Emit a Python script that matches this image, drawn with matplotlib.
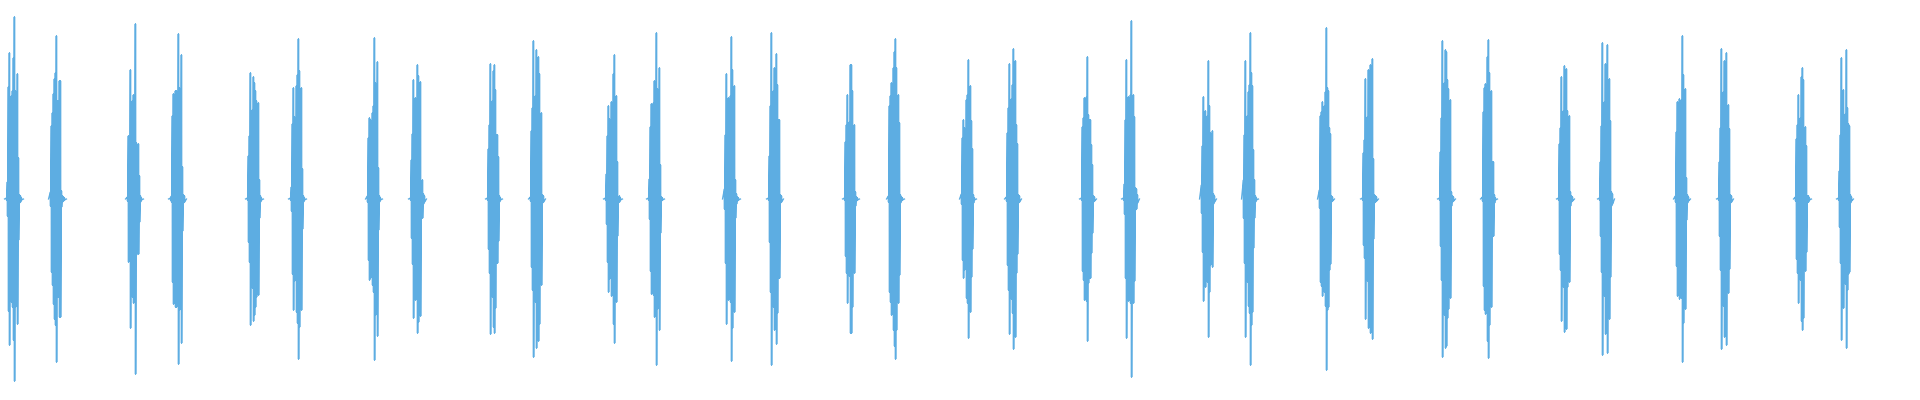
# Waveform of 32 clicks (16 pairs), drawn as one trace per burst
import matplotlib
matplotlib.use('Agg')
import matplotlib.pyplot as plt

plt.rcParams['path.simplify'] = False

# onset of each burst (time units, 1 unit ~ 1 px of the reference)
onsets = [6, 50, 127, 170, 247, 290, 367, 410,
          487, 530, 605, 648, 724, 768, 844, 888,
          961, 1006, 1081, 1123, 1201, 1243, 1319, 1362,
          1439, 1482, 1558, 1599, 1675, 1718, 1795, 1838]

# peak amplitude per time unit inside each burst
env = [
    [1, 17, 112, 146, 91, 103, 108, 141, 182, 108, 69, 125, 41, 4, 3, 1],
    [7, 73, 86, 105, 120, 126, 163, 98, 98, 118, 118, 8, 3, 2, 1],
    [2, 63, 50, 129, 48, 98, 104, 56, 175, 56, 48, 55, 23, 3, 1],
    [1, 3, 83, 105, 96, 108, 108, 66, 165, 111, 55, 144, 32, 4, 3],
    [1, 43, 63, 126, 53, 89, 122, 116, 108, 98, 57, 96, 19, 3, 1],
    [1, 12, 75, 111, 82, 79, 113, 124, 160, 128, 59, 111, 30, 3, 1],
    [3, 61, 81, 79, 78, 86, 93, 161, 116, 55, 137, 31, 3, 1],
    [1, 39, 65, 119, 58, 101, 96, 134, 123, 91, 117, 15, 19, 5, 3],
    [1, 50, 74, 135, 67, 98, 128, 134, 109, 64, 64, 42, 3, 1],
    [2, 68, 91, 158, 70, 103, 149, 120, 142, 125, 79, 86, 4, 3],
    [1, 25, 63, 93, 80, 71, 97, 93, 125, 144, 68, 103, 37, 2, 3, 1],
    [1, 20, 72, 95, 87, 96, 118, 110, 166, 110, 60, 131, 34, 2, 1],
    [10, 64, 125, 61, 101, 86, 103, 162, 129, 84, 113, 19, 5, 2, 1],
    [1, 43, 93, 166, 65, 108, 131, 126, 145, 114, 79, 79, 4, 3],
    [1, 57, 74, 104, 63, 77, 134, 134, 108, 53, 74, 7, 2, 1],
    [3, 93, 103, 116, 95, 131, 147, 160, 131, 94, 104, 76, 4, 2, 1],
    [5, 61, 79, 71, 62, 99, 104, 139, 106, 113, 78, 50, 4, 1],
    [2, 66, 91, 135, 77, 100, 114, 150, 130, 138, 74, 55, 4, 3],
    [1, 72, 81, 101, 78, 102, 142, 84, 79, 79, 54, 34, 3, 2],
    [1, 15, 79, 139, 66, 102, 85, 104, 178, 49, 104, 82, 11, 10, 4],
    [14, 53, 102, 63, 88, 75, 83, 138, 93, 66, 57, 68, 5, 3],
    [19, 64, 138, 64, 83, 107, 114, 166, 126, 113, 49, 19, 3, 1],
    [9, 83, 87, 97, 88, 93, 107, 171, 111, 108, 71, 65, 3, 2],
    [1, 46, 59, 120, 49, 82, 129, 126, 134, 54, 140, 40, 4, 3, 2],
    [1, 47, 81, 158, 76, 116, 149, 147, 119, 110, 84, 99, 7, 3, 2],
    [2, 87, 111, 115, 68, 142, 159, 126, 39, 108, 37, 37, 4, 1],
    [1, 55, 71, 122, 56, 88, 133, 119, 130, 88, 75, 83, 7, 3, 2],
    [1, 37, 73, 156, 69, 97, 135, 132, 154, 98, 120, 78, 7, 5],
    [3, 67, 97, 92, 100, 80, 99, 163, 124, 49, 110, 21, 4, 2],
    [1, 37, 71, 150, 67, 107, 138, 133, 146, 87, 94, 70, 4, 3],
    [2, 60, 74, 104, 61, 81, 122, 131, 119, 39, 72, 53, 3, 3, 1],
    [1, 28, 64, 141, 55, 109, 70, 85, 149, 91, 75, 73, 4, 2],
]

fig = plt.figure(figsize=(19.2, 4), dpi=100)
ax = fig.add_axes([0, 0, 1, 1])

for t0, amps in zip(onsets, env):
    # oscillation: swings of +-a packed into each time unit,
    # starting and ending at zero
    xs = [t0 - 1.5]
    ys = [0]
    for i, a in enumerate(amps):
        xs += [t0 + i + 0.35, t0 + i + 0.45, t0 + i + 0.55, t0 + i + 0.65]
        ys += [a, -a, a, -a]
    xs.append(t0 + len(amps) + 1.5)
    ys.append(0)
    ax.plot(xs, ys, color='#5DADE2', linewidth=0.9)

ax.set_xlim(0, 1920)
ax.set_ylim(-201, 199)
ax.axis('off')

fig.savefig('out.png', dpi=100)
